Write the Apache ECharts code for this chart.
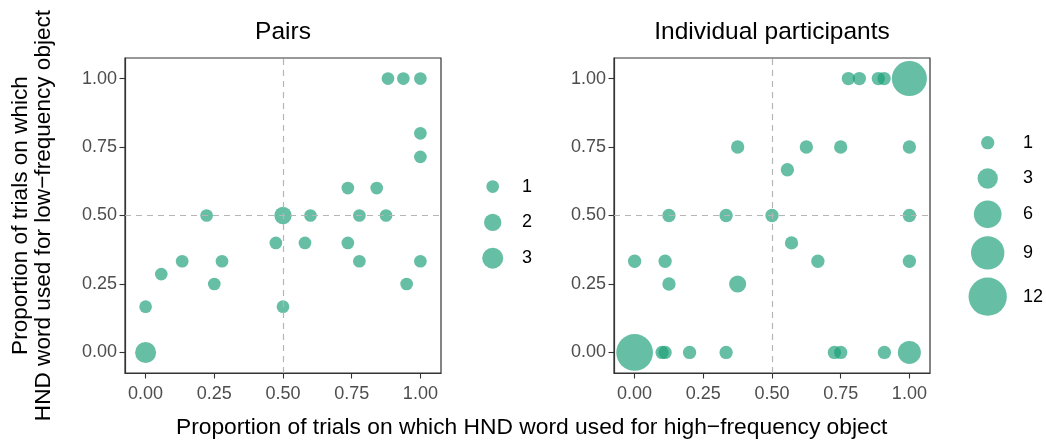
<!DOCTYPE html>
<html>
<head>
<meta charset="utf-8">
<script src="https://cdn.jsdelivr.net/npm/echarts@6/dist/echarts.min.js"></script>
<style>
  html, body { margin: 0; padding: 0; background: #ffffff; }
  #chart { width: 1046px; height: 448px; }
</style>
</head>
<body>
<div id="chart"></div>
<script>
// Panel headings and shared tick marks
const panelTitles = ['Pairs', 'Individual participants'];
const tickValues = [0, 0.25, 0.5, 0.75, 1];
const tickLabels = ['0.00', '0.25', '0.50', '0.75', '1.00'];
const xAxisTitle = 'Proportion of trials on which HND word used for high\u2212frequency object';
const yAxisTitle = 'Proportion of trials on which\nHND word used for low\u2212frequency object';

// Pairs: x = high-frequency proportion, y = low-frequency proportion, n = count
const pairsX = [0.882, 0.938, 1, 1, 1, 0.736, 0.841, 0.222, 0.5, 0.6, 0.778, 0.875,
                0.474, 0.58, 0.736, 0.133, 0.278, 0.778, 1, 0.057, 0.25, 0.95, 0, 0.5, 0];
const pairsY = [1, 1, 1, 0.8, 0.714, 0.6, 0.6, 0.5, 0.5, 0.5, 0.5, 0.5,
                0.4, 0.4, 0.4, 0.333, 0.333, 0.333, 0.333, 0.286, 0.25, 0.25, 0.167, 0.167, 0];
const pairsN = [1, 1, 1, 1, 1, 1, 1, 1, 2, 1, 1, 1,
                1, 1, 1, 1, 1, 1, 1, 1, 1, 1, 1, 1, 3];

// Individual participants
const indivX = [0.778, 0.818, 0.887, 0.908, 1,
                0.375, 0.625, 0.75, 1,
                0.556,
                0.125, 0.333, 0.5, 1,
                0.571,
                0, 0.111, 0.667, 1,
                0.125, 0.375,
                0, 0.1, 0.111, 0.2, 0.333, 0.727, 0.75, 0.909, 1];
const indivY = [1, 1, 1, 1, 1,
                0.75, 0.75, 0.75, 0.75,
                0.667,
                0.5, 0.5, 0.5, 0.5,
                0.4,
                0.333, 0.333, 0.333, 0.333,
                0.25, 0.25,
                0, 0, 0, 0, 0, 0, 0, 0, 0];
const indivN = [1, 1, 1, 1, 10,
                1, 1, 1, 1,
                1,
                1, 1, 1, 1,
                1,
                1, 1, 1, 1,
                1, 2,
                11, 1, 1, 1, 1, 1, 1, 1, 4];

// Size legend breaks
const pairsLegendBreaks = [1, 2, 3];
const indivLegendBreaks = [1, 3, 6, 9, 12];

// Area-proportional size scales (diameter in px)
const pairsSize = n => Math.sqrt(161 + 140 * (n - 1));
const indivSize = n => Math.sqrt(177 + 117 * (n - 1));

const pointColor = 'rgba(27,158,119,0.67)';
const FONT = '"Liberation Sans", Arial, Helvetica, sans-serif';

const zip = (xs, ys, ns) => xs.map((x, i) => [x, ys[i], ns[i]]);

const panelGrids = [
  { left: 125, top: 58, width: 316, height: 315 },
  { left: 614, top: 58, width: 316, height: 315 }
];

// Legend keys: stacked, each key at least a fixed height, taller for large symbols
function legendLayout(breaks, sizeFn) {
  const heights = breaks.map(b => Math.max(35.8, sizeFn(b) + 8));
  const centers = [];
  let acc = 0;
  heights.forEach(h => { centers.push(acc + h / 2); acc += h; });
  return { centers, total: acc };
}
const pairsLeg = legendLayout(pairsLegendBreaks, pairsSize);
const indivLeg = legendLayout(indivLegendBreaks, indivSize);

const grids = [
  Object.assign({ show: true, borderColor: '#333333', borderWidth: 1.2, backgroundColor: '#ffffff' }, panelGrids[0]),
  Object.assign({ show: true, borderColor: '#333333', borderWidth: 1.2, backgroundColor: '#ffffff' }, panelGrids[1]),
  { left: 472.7, top: 168.7, width: 40, height: pairsLeg.total },
  { left: 967.7, top: 124.8, width: 40, height: indivLeg.total }
];

function panelXAxis(gi) {
  return {
    gridIndex: gi, type: 'value', min: -0.075, max: 1.075,
    axisLine: { show: true, onZero: false, lineStyle: { color: '#333333', width: 1.2 } },
    axisTick: { show: true, length: 5.5, customValues: tickValues, lineStyle: { color: '#333333', width: 1.1 } },
    axisLabel: {
      show: true, customValues: tickValues, margin: 12,
      color: '#4d4d4d', fontSize: 18, fontFamily: FONT,
      formatter: v => tickLabels[tickValues.indexOf(v)] ?? v.toFixed(2)
    },
    splitLine: { show: false }
  };
}
function panelYAxis(gi) {
  return {
    gridIndex: gi, type: 'value', min: -0.075, max: 1.075,
    axisLine: { show: true, onZero: false, lineStyle: { color: '#333333', width: 1.2 } },
    axisTick: { show: true, length: 5.5, customValues: tickValues, lineStyle: { color: '#333333', width: 1.1 } },
    axisLabel: {
      show: true, customValues: tickValues, margin: 8,
      color: '#4d4d4d', fontSize: 18, fontFamily: FONT,
      formatter: v => tickLabels[tickValues.indexOf(v)] ?? v.toFixed(2)
    },
    splitLine: { show: false }
  };
}
function hiddenAxis(gi, min, max, inverse) {
  return { gridIndex: gi, type: 'value', min, max, inverse: !!inverse, show: false,
           axisLine: { show: false }, axisTick: { show: false }, axisLabel: { show: false },
           splitLine: { show: false } };
}

const refLines = {
  silent: true,
  symbol: ['none', 'none'],
  label: { show: false },
  lineStyle: { color: '#b5b5b5', type: [6, 5], width: 1.2, opacity: 1 },
  data: [{ xAxis: 0.5 }, { yAxis: 0.5 }],
  animation: false
};

function panelSeries(gi, data, sizeFn) {
  return {
    type: 'scatter', xAxisIndex: gi, yAxisIndex: gi,
    data,
    symbol: 'circle',
    symbolSize: v => sizeFn(v[2]),
    itemStyle: { color: pointColor, borderWidth: 0, opacity: 1 },
    emphasis: { disabled: true },
    markLine: refLines,
    z: 3
  };
}

function legendSeries(gi, breaks, layout, sizeFn, labelOffset) {
  return {
    type: 'scatter', xAxisIndex: gi, yAxisIndex: gi,
    data: breaks.map((b, i) => ({
      value: [0, layout.centers[i], b],
      label: { distance: labelOffset - sizeFn(b) / 2 }
    })),
    symbol: 'circle',
    symbolSize: v => sizeFn(v[2]),
    itemStyle: { color: pointColor, borderWidth: 0, opacity: 1 },
    label: {
      show: true, position: 'right',
      formatter: p => String(p.value[2]),
      color: '#000000', fontSize: 18, fontFamily: FONT
    },
    emphasis: { disabled: true },
    silent: true
  };
}

const option = {
  animation: false,
  backgroundColor: '#ffffff',
  grid: grids,
  xAxis: [panelXAxis(0), panelXAxis(1), hiddenAxis(2, -1, 1), hiddenAxis(3, -1, 1)],
  yAxis: [panelYAxis(0), panelYAxis(1),
          hiddenAxis(2, 0, pairsLeg.total, true), hiddenAxis(3, 0, indivLeg.total, true)],
  series: [
    panelSeries(0, zip(pairsX, pairsY, pairsN), pairsSize),
    panelSeries(1, zip(indivX, indivY, indivN), indivSize),
    legendSeries(2, pairsLegendBreaks, pairsLeg, pairsSize, 29.3),
    legendSeries(3, indivLegendBreaks, indivLeg, indivSize, 35.3)
  ],
  graphic: [
    { type: 'text', x: 283, y: 32, style: { text: panelTitles[0], align: 'center', verticalAlign: 'middle',
      fontSize: 24.5, fontFamily: FONT, fill: '#000000' } },
    { type: 'text', x: 772, y: 32, style: { text: panelTitles[1], align: 'center', verticalAlign: 'middle',
      fontSize: 24.5, fontFamily: FONT, fill: '#000000' } },
    { type: 'text', x: 531.7, y: 428, style: { text: xAxisTitle, align: 'center', verticalAlign: 'middle',
      fontSize: 22.8, fontFamily: FONT, fill: '#000000' } },
    { type: 'text', x: 32, y: 215.5, rotation: Math.PI / 2,
      style: { text: yAxisTitle, align: 'center', verticalAlign: 'middle', lineHeight: 23,
      fontSize: 22.6, fontFamily: FONT, fill: '#000000' } }
  ]
};

const chart = echarts.init(document.getElementById('chart'), null, { renderer: 'canvas' });
chart.setOption(option);
</script>
</body>
</html>
